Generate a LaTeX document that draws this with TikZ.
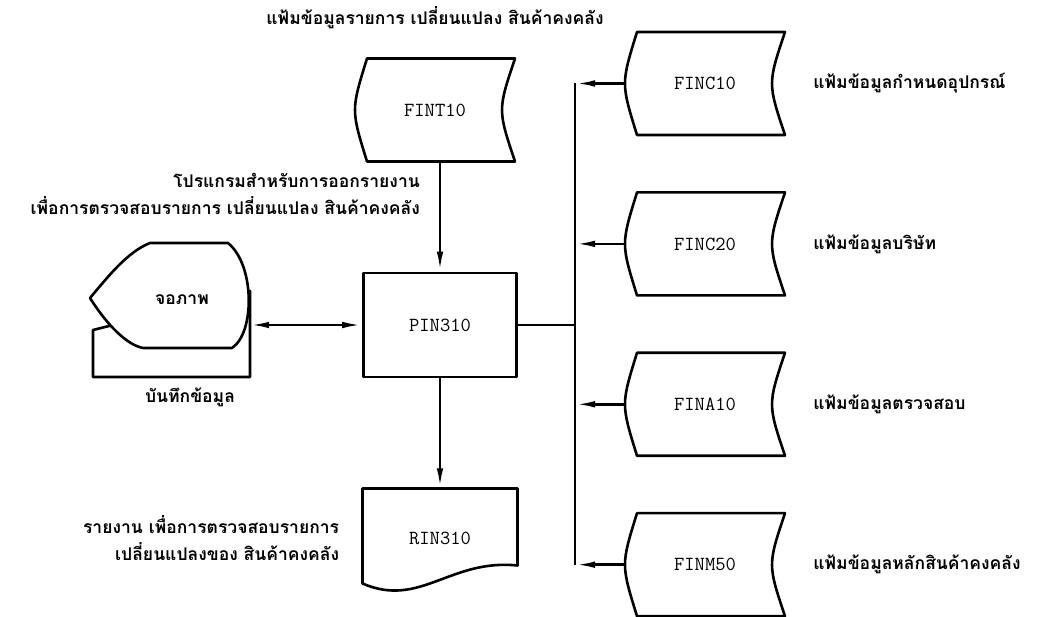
\documentclass[tikz,border=0pt]{standalone}
\usepackage{fontspec}
\newfontfamily\thaifont[Script=Thai]{Loma}
\usetikzlibrary{arrows.meta,positioning,backgrounds}
\tikzset{
	flow/.style={line width=2.6pt,line join=round},
	flowtip/.style={-{Latex[length=20pt,width=6.5pt]}},
	code/.style={font=\ttfamily\fontsize{20}{22}\selectfont\addfontfeature{FakeBold=1.5}},
	filenode/.style={code,minimum width=160pt,minimum height=103pt},
	prog/.style={code,draw,flow,minimum width=153pt,minimum height=104pt},
	doc/.style={code,minimum width=155pt,minimum height=100pt},
	screen/.style={note,minimum width=134pt,minimum height=105pt},
	note/.style={font=\thaifont\bfseries\fontsize{17.5}{27}\selectfont,align=right,inner sep=0pt}
}
\newcommand{\storedfile}[1]{\draw[flow,shift={(#1.center)}] (-68,51.5) -- (80,51.5) .. controls (62.7,0) .. (80,-51.5) -- (-68,-51.5) .. controls (-84,0) .. (-68,51.5) -- cycle;}

\begin{document}
\begin{tikzpicture}[x=1pt,y=1pt]
	\useasboundingbox (0,0) rectangle (1041,617);
	\node[prog](pin310) at (440,292){PIN310};
	\node[filenode](fint10) at (435,507){FINT10};
	\node[filenode](finc10) at (705,533.5){FINC10};
	\node[filenode](finc20)[below = 57pt of finc10]{FINC20};
	\node[filenode](fina10)[below = 57pt of finc20]{FINA10};
	\node[filenode](finm50)[below = 57pt of fina10]{FINM50};
	\node[doc](rin310)[below = 110pt of pin310]{RIN310};
	\node[screen](disp) at (182,317){จอภาพ};
	\node[note](keynote) at (190,220){บันทึกข้อมูล};
	\node[note](fint10note) at (435,599){แฟ้มข้อมูลรายการ เปลี่ยนแปลง สินค้าคงคลัง};
	\node[note,anchor=east](prognote) at (420,423){โปรแกรมสำหรับการออกรายงาน\\เพื่อการตรวจสอบรายการ เปลี่ยนแปลง สินค้าคงคลัง};
	\node[note](rinnote)[left = 23pt of rin310]{รายงาน เพื่อการตรวจสอบรายการ\\เปลี่ยนแปลงของ สินค้าคงคลัง};
	\node[note](finc10note)[right = 28pt of finc10]{แฟ้มข้อมูลกำหนดอุปกรณ์};
	\node[note](finc20note)[right = 28pt of finc20]{แฟ้มข้อมูลบริษัท};
	\node[note](fina10note)[right = 28pt of fina10]{แฟ้มข้อมูลตรวจสอบ};
	\node[note](finm50note)[right = 28pt of finm50]{แฟ้มข้อมูลหลักสินค้าคงคลัง};
	\coordinate (bus) at (575,292);
	\storedfile{fint10}
	\storedfile{finc10}
	\storedfile{finc20}
	\storedfile{fina10}
	\storedfile{finm50}
	\draw[flow,shift={(rin310.center)}] (-77.5,50) -- (77.5,50) -- (77.5,-27) .. controls (10,-20) and (-20,-70) .. (-77.5,-45) -- cycle;
	\begin{scope}[on background layer]
		\draw[flow,shift={(disp.center)}] (-89,-30) -- (68,9) -- (68,-77) -- (-89,-77) -- cycle;
		\draw[flow,fill=white,shift={(disp.center)}] (-92,2) .. controls (-75,22) and (-55,48) .. (-32,57) -- (46,57) .. controls (73,35) and (73,-33) .. (50,-48) -- (-39,-48) .. controls (-55,-45) and (-75,-25) .. (-92,2) -- cycle;
	\end{scope}
	\draw[flow] (pin310.east) -- (bus);
	\draw[flow] (bus |- finc10.west) -- (bus |- finm50.west);
	\draw[flow,flowtip] (finc10.west) -- (bus |- finc10.west);
	\draw[flow,flowtip] (finc20.west) -- (bus |- finc20.west);
	\draw[flow,flowtip] (fina10.west) -- (bus |- fina10.west);
	\draw[flow,flowtip] (finm50.west) -- (bus |- finm50.west);
	\draw[flow,flowtip] (fint10.south -| pin310.north) -- (pin310.north);
	\draw[flow,flowtip] (pin310.south) -- (rin310.north);
	\draw[flow,{Latex[length=20pt,width=6.5pt]}-{Latex[length=20pt,width=6.5pt]}] (disp.east |- pin310.west) -- (pin310.west);
\end{tikzpicture}
\end{document}
